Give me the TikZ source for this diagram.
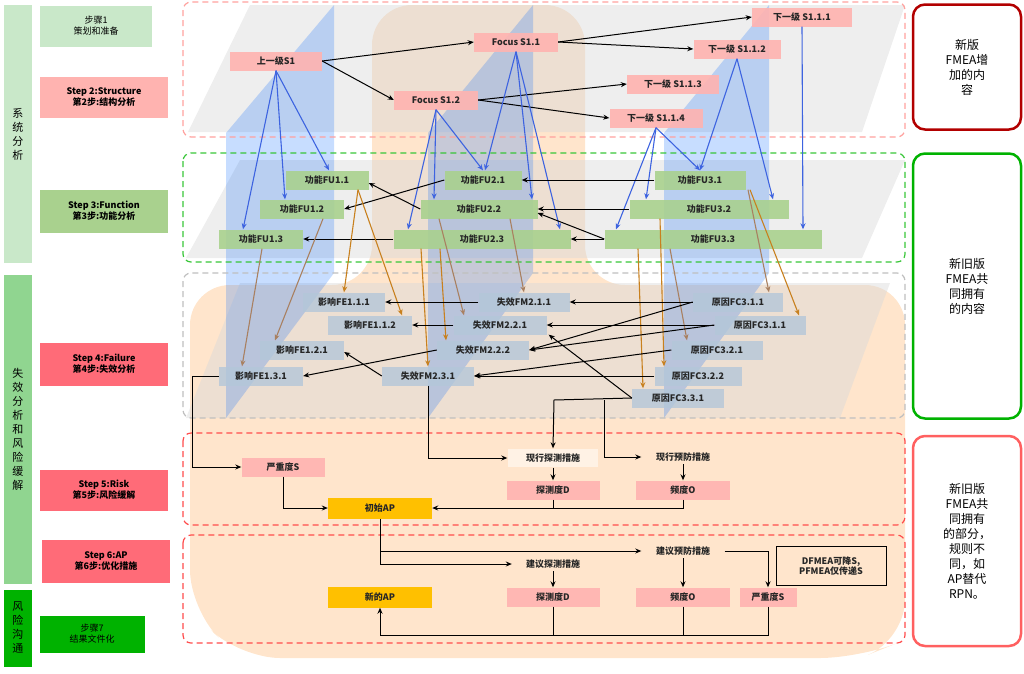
\documentclass[tikz,border=0pt]{standalone}
\usepackage{fontspec}
\setmainfont{Noto Sans CJK SC}
\usetikzlibrary{arrows.meta}
\definecolor{pk}{HTML}{FFB3B0}
\definecolor{gr}{HTML}{A9D18E}
\definecolor{bl}{HTML}{B4C7D9}
\definecolor{rd}{HTML}{FF6B78}
\definecolor{gold}{HTML}{FFC000}
\definecolor{blu}{HTML}{3D63E0}
\definecolor{org}{HTML}{C8801E}
\definecolor{brn}{HTML}{A98060}
\begin{document}
\begin{tikzpicture}[x=1pt,y=-1pt,
  mybase/.style={inner sep=0pt,font=\fontsize{9}{10}\selectfont\bfseries,text=black!85},
  mypk/.style={mybase,fill=pk,fill opacity=.9,text opacity=1,minimum height=19pt},
  mygr/.style={mybase,fill=gr,fill opacity=.9,text opacity=1,minimum height=19pt},
  mybl/.style={mybase,fill=bl,fill opacity=.8,text opacity=1,minimum height=19pt},
  myap/.style={mybase,fill=gold,minimum height=21pt,minimum width=104pt},
  mytx/.style={mybase,minimum height=14pt},
  mystep/.style={inner sep=0pt,align=center,font=\fontsize{9}{11}\selectfont\bfseries,minimum width=128pt},
  mybar/.style={inner sep=0pt,align=center,font=\fontsize{11}{14}\selectfont,minimum width=28pt},
  myside/.style={draw,line width=2.5pt,rounded corners=12pt,minimum width=108pt,align=center,font=\fontsize{12}{15}\selectfont,inner sep=0pt},
  ka/.style={-{Stealth[length=6pt,width=5pt]},line width=1pt,black},
  ba/.style={-{Stealth[length=6pt,width=5pt]},line width=1.1pt,blu},
  oa/.style={-{Stealth[length=6pt,width=5pt]},line width=1.1pt,org},
  na/.style={-{Stealth[length=6pt,width=5pt]},line width=1.1pt,brn},
  dreg/.style={dash pattern=on 6pt off 4pt,line width=1.2pt,rounded corners=8pt}]
\useasboundingbox (0,0) rectangle (1024,673);
% background blob
\fill[orange!25,opacity=.8,rounded corners=40pt] (372,5) -- (585,5) -- (585,285) -- (905,285) -- (905,640) -- (860,658) -- (240,658) -- (190,610) -- (190,285) -- (372,285) -- cycle;
% gray bands
\fill[gray!30,opacity=.45] (188,132) -- (250,5) -- (905,5) -- (862,132) -- cycle;
\fill[gray!30,opacity=.45] (186,258) -- (240,160) -- (905,160) -- (862,258) -- cycle;
\fill[gray!30,opacity=.45] (186,418) -- (240,283) -- (890,283) -- (840,418) -- cycle;
% blue strips
\foreach \a/\b in {226/334,428/533,664/769}
  \fill[blue!60!cyan,opacity=.22] (\a,133) -- (\b,5) -- (\b,273) -- (\a,418) -- cycle;
% dashed regions
\draw[dreg,pk!90!red] (183,2) rectangle (905,137);
\draw[dreg,green!55!gray] (183,153) rectangle (905,262);
\draw[dreg,gray!50] (183,273) rectangle (905,418);
\draw[dreg,red!70] (183,433) rectangle (905,525);
\draw[dreg,red!70] (183,535) rectangle (905,643);
% left column
\node[mybar,fill=green!40!gray!30,minimum height=258pt] (b1) at (18,134) {系\\统\\分\\析};
\node[mybar,fill=green!45!gray!60,minimum height=309pt] (b2) at (18,429) {失\\效\\分\\析\\和\\风\\险\\缓\\解};
\node[mybar,fill=green!70!black,minimum height=77pt] (b3) at (18,628) {风\\险\\沟\\通};
\node[mystep,fill=green!40!gray!30,minimum width=112pt,minimum height=41pt,font=\fontsize{9}{11}\selectfont] (p1) at (96,26) {步骤1\\策划和准备};
\node[mystep,fill=pk,minimum height=41pt] (p2) at (104,97) {Step 2:Structure\\第2步:结构分析};
\node[mystep,fill=gr,minimum height=43pt] (p3) at (104,211) {Step 3:Function\\第3步:功能分析};
\node[mystep,fill=rd,minimum height=43pt] (p4) at (104,364) {Step 4:Failure\\第4步:失效分析};
\node[mystep,fill=rd,minimum height=41pt] (p5) at (104,490) {Step 5:Risk\\第5步:风险缓解};
\node[mystep,fill=rd,minimum height=43pt] (p6) at (106,561) {Step 6:AP\\第6步:优化措施};
\node[mystep,fill=green!70!black,minimum width=105pt,minimum height=37pt,font=\fontsize{9}{11}\selectfont] (p7) at (92,634) {步骤7\\结果文件化};
% right column
\node[myside,draw=red!70!black,minimum height=125pt] (r1) at (967,67) {新版\\FMEA增\\加的内\\容};
\node[myside,draw=green!70!black,minimum height=265pt] (r2) at (967,286) {新旧版\\FMEA共\\同拥有\\的内容};
\node[myside,draw=red!50!pink,minimum height=210pt] (r3) at (967,541) {新旧版\\FMEA共\\同拥有\\的部分，\\规则不\\同，如\\AP替代\\RPN。};
% structure
\node[mypk,minimum width=92pt] (s1) at (276,61) {上一级S1};
\node[mypk,minimum width=84pt] (f11) at (516,42) {Focus S1.1};
\node[mypk,minimum width=84pt] (f12) at (436,100) {Focus S1.2};
\node[mypk,minimum width=100pt] (l1) at (802,17) {下一级 S1.1.1};
\node[mypk,minimum width=87pt] (l2) at (737,49) {下一级 S1.1.2};
\node[mypk,minimum width=92pt] (l3) at (673,84) {下一级 S1.1.3};
\node[mypk,minimum width=93pt] (l4) at (656,118) {下一级 S1.1.4};
% functions
\node[mygr,minimum width=83pt] (u11) at (327,180) {功能FU1.1};
\node[mygr,minimum width=84pt] (u12) at (302,209) {功能FU1.2};
\node[mygr,minimum width=84pt] (u13) at (261,239) {功能FU1.3};
\node[mygr,minimum width=77pt] (u21) at (483,180) {功能FU2.1};
\node[mygr,minimum width=117pt] (u22) at (479,209) {功能FU2.2};
\node[mygr,minimum width=177pt] (u23) at (482,239) {功能FU2.3};
\node[mygr,minimum width=91pt] (u31) at (700,180) {功能FU3.1};
\node[mygr,minimum width=159pt] (u32) at (709,209) {功能FU3.2};
\node[mygr,minimum width=217pt] (u33) at (713,239) {功能FU3.3};
% failures
\node[mybl,minimum width=82pt] (e111) at (344,302) {影响FE1.1.1};
\node[mybl,minimum width=84pt] (e112) at (370,325) {影响FE1.1.2};
\node[mybl,minimum width=84pt] (e121) at (302,350) {影响FE1.2.1};
\node[mybl,minimum width=84pt] (e131) at (261,376) {影响FE1.3.1};
\node[mybl,minimum width=91pt] (m211) at (524,302) {失效FM2.1.1};
\node[mybl,minimum width=93pt] (m221) at (500,325) {失效FM2.2.1};
\node[mybl,minimum width=92pt] (m222) at (483,350) {失效FM2.2.2};
\node[mybl,minimum width=92pt] (m231) at (428,376) {失效FM2.3.1};
\node[mybl,minimum width=90pt] (c311) at (738,302) {原因FC3.1.1};
\node[mybl,minimum width=91pt] (c311b) at (760,325) {原因FC3.1.1};
\node[mybl,minimum width=91pt] (c321) at (717,350) {原因FC3.2.1};
\node[mybl,minimum width=87pt] (c322) at (698,376) {原因FC3.2.2};
\node[mybl,minimum width=92pt] (c331) at (678,398) {原因FC3.3.1};
% risk
\node[mytx,fill=orange!10,draw=orange!20,minimum width=91pt,minimum height=19pt] (xt) at (553,458) {现行探测措施};
\node[mytx,minimum width=83pt] (xy) at (683,457) {现行预防措施};
\node[mypk,minimum width=83pt] (sv) at (283,467) {严重度S};
\node[mypk,minimum width=93pt] (dd) at (553,490) {探测度D};
\node[mypk,minimum width=94pt] (oo) at (683,490) {频度O};
\node[myap] (ap) at (380,508) {初始AP};
\node[mytx,minimum width=83pt] (jy) at (683,551) {建议预防措施};
\node[mytx,minimum width=82pt] (jt) at (553,564) {建议探测措施};
\node[mybase,draw,line width=1pt,align=center,minimum width=110pt,minimum height=39pt] (df) at (831,566) {DFMEA可降S,\\PFMEA仅传递S};
\node[myap] (nap) at (380,597) {新的AP};
\node[mypk,minimum width=93pt] (dd2) at (553,597) {探测度D};
\node[mypk,minimum width=94pt] (oo2) at (683,597) {频度O};
\node[mypk,minimum width=57pt] (sv2) at (768,597) {严重度S};
% structure arrows
\draw[ka] (s1.east) -- (f11.west);
\draw[ka] (s1.east) -- (f12.west);
\draw[ka] (f11.east) -- (l1.west);
\draw[ka] (f11.east) -- (l2.west);
\draw[ka] (f12.east) -- (l3.west);
\draw[ka] (f12.east) -- (l4.west);
% blue
\draw[ba] (s1.south) -- ([xshift=2pt]u11.north);
\draw[ba] (s1.south) -- ([xshift=-17pt]u12.north);
\draw[ba] (s1.south) -- ([xshift=-18pt]u13.north);
\draw[ba] (f11.south) -- ([xshift=2pt]u21.north);
\draw[ba] (f11.south) -- ([xshift=53pt]u22.north);
\draw[ba] (f11.south) -- ([xshift=78pt]u23.north);
\draw[ba] (f12.south) -- (u21.north);
\draw[ba] (f12.south) -- ([xshift=-45pt]u22.north);
\draw[ba] (f12.south) -- ([xshift=-74pt]u23.north);
\draw[ba] (l2.south) -- (u31.north);
\draw[ba] (l2.south) -- ([xshift=64pt]u32.north);
\draw[ba] (l4.south) -- (u31.north);
\draw[ba] (l4.south) -- ([xshift=-63pt]u32.north);
\draw[ba] (l4.south) -- ([xshift=-97pt]u33.north);
\draw[ba] (l1.south) -- ([xshift=90pt]u33.north);
% function arrows
\draw[ka] (u31.west) -- (u21.east);
\draw[ka] (u32.west) -- (u22.east);
\draw[ka] (u33.west) -- (u23.east);
\draw[ka] (u33.west) -- ([yshift=-4pt]u22.east);
\draw[ka] (u23.west) -- (u13.east);
\draw[ka] (u21.west) -- (u12.east);
\draw[ka] (u22.west) -- ([yshift=-3pt]u11.east);
% orange / brown
\draw[oa] ([xshift=31pt]u11.south) -- (e111.north);
\draw[oa] ([xshift=31pt]u11.south) -- ([xshift=32pt]e112.north);
\draw[na] ([xshift=21pt]u12.south) -- ([xshift=-27pt]e121.north);
\draw[na] ([xshift=1pt]u13.south) -- ([xshift=-19pt]e131.north);
\draw[na] ([xshift=31pt]u22.south) -- (m211.north);
\draw[na] ([xshift=-40pt]u22.south) -- ([xshift=-36pt]m221.north);
\draw[oa] ([xshift=-42pt]u23.south) -- ([xshift=-37pt]m222.north);
\draw[oa] ([xshift=-61pt]u23.south) -- (m231.north);
\draw[oa] ([xshift=-75pt]u33.south) -- ([xshift=-35pt]c331.north);
\draw[oa] ([xshift=-49pt]u32.south) -- ([xshift=-34pt]c322.north);
\draw[na] ([xshift=-43pt]u33.south) -- ([xshift=-30pt]c321.north);
\draw[na] ([xshift=48pt]u31.south) -- ([xshift=31pt]c311.north);
\draw[oa] ([xshift=50pt]u31.south) -- ([xshift=39pt]c311b.north);
% failure arrows
\draw[ka] (c311.west) -- (m211.east);
\draw[ka] (c311.west) -- (m222.east);
\draw[ka] (c311b.west) -- (m221.east);
\draw[ka] (c311b.west) -- (m222.east);
\draw[ka] (c321.west) -- (m231.east);
\draw[ka] (c322.west) -- (m231.east);
\draw[ka] (c331.west) -- ([xshift=2pt]m221.south east);
\draw[ka] (m211.west) -- (e111.east);
\draw[ka] (m221.west) -- (e112.east);
\draw[ka] (m222.west) -- (e131.east);
\draw[ka] (m231.west) -- ([yshift=-2pt]e121.east);
% lower flow
\draw[ka] (e131.west) -- (192,376) |- (sv.west);
\draw[ka] (m231.south) |- (xt.west);
\draw[ka] (c331.west) -- (554,400) -- (xt.north);
\draw[ka] (604,400) |- (xy.west);
\draw[ka] (xt) -- (dd);
\draw[ka] (xy) -- (oo);
\draw[ka] (sv.south) |- (ap.west);
\draw[ka] (oo.south) |- (ap.east);
\draw[line width=1pt] (dd.south) -- (553,508);
\draw[ka] (ap.south) |- (jy.west);
\draw[ka] (380,549) |- (jt.west);
\draw[ka] (jt) -- (dd2);
\draw[ka] (jy) -- (oo2);
\draw[ka] (jy.east) -| (sv2.north);
\draw[ka] (sv2.south) |- (380,635) -- (nap.south);
\draw[line width=1pt] (dd2.south) -- (553,635);
\draw[line width=1pt] (oo2.south) -- (683,635);
\end{tikzpicture}
\end{document}
